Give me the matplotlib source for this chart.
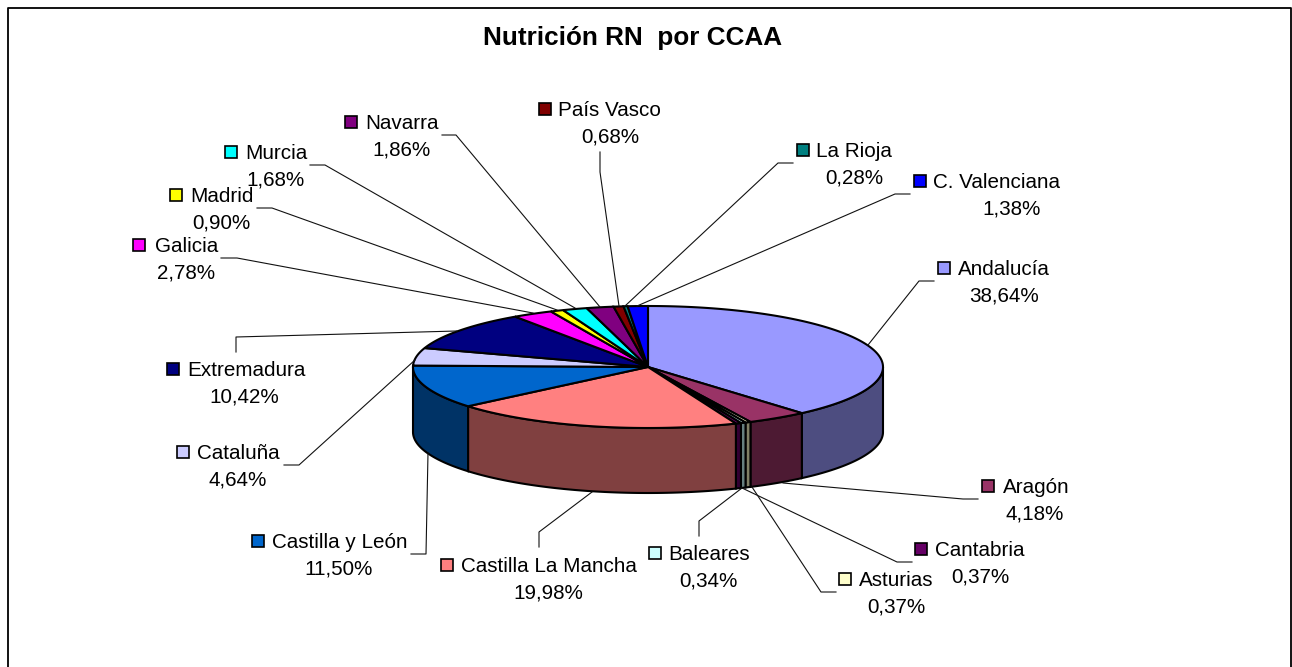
import matplotlib
matplotlib.use("Agg")
import matplotlib.pyplot as plt
import numpy as np
from matplotlib.colors import to_rgb
from matplotlib.patches import Polygon, Rectangle

plt.rcParams["font.family"] = ["Liberation Sans", "DejaVu Sans"]

names = ["Andalucía", "Aragón", "Asturias", "Baleares", "Cantabria",
         "Castilla La Mancha", "Castilla y León", "Cataluña", "Extremadura",
         "Galicia", "Madrid", "Murcia", "Navarra", "País Vasco", "La Rioja",
         "C. Valenciana"]
values = [38.64, 4.18, 0.37, 0.34, 0.37, 19.98, 11.50, 4.64, 10.42,
          2.78, 0.90, 1.68, 1.86, 0.68, 0.28, 1.38]
colors = ["#9999FF", "#993366", "#FFFFCC", "#CCFFFF", "#660066", "#FF8080",
          "#0066CC", "#CCCCFF", "#000080", "#FF00FF", "#FFFF00", "#00FFFF",
          "#800080", "#800000", "#008080", "#0000FF"]
title = "Nutrición RN  por CCAA"

# layout in pixels: key centre x, key centre y, name left x, percent centre x
label_pos = {
    "Andalucía": (944, 268, 958, 1004),
    "Aragón": (988, 486, 1003, 1035),
    "Asturias": (845, 579, 859, 896),
    "Baleares": (655, 553, 668, 708),
    "Cantabria": (921, 549, 935, 980),
    "Castilla La Mancha": (447, 565, 461, 548),
    "Castilla y León": (258, 541, 272, 339),
    "Cataluña": (183, 452, 197, 238),
    "Extremadura": (173, 369, 187, 244),
    "Galicia": (139, 245, 155, 186),
    "Madrid": (176, 195, 190, 221),
    "Murcia": (231, 152, 245, 275),
    "Navarra": (351, 122, 365, 401),
    "País Vasco": (545, 109, 558, 610),
    "La Rioja": (803, 150, 816, 854),
    "C. Valenciana": (920, 181, 933, 1012),
}
leaders = {
    "Andalucía": [(934, 281), (919, 281), (868, 345)],
    "Aragón": [(978, 499), (963, 499), (783, 483)],
    "Asturias": [(836, 592), (821, 592), (752, 487)],
    "Baleares": [(699, 536), (699, 521), (742, 488)],
    "Cantabria": [(912, 562), (897, 562), (742, 488)],
    "Castilla La Mancha": [(539, 547), (539, 532), (592, 492)],
    "Castilla y León": [(411, 554), (426, 554), (428, 453)],
    "Cataluña": [(284, 465), (299, 465), (415, 360)],
    "Extremadura": [(236, 352), (236, 337), (457, 331)],
    "Galicia": [(221, 258), (237, 258), (533, 313)],
    "Madrid": [(257, 208), (272, 208), (557, 310)],
    "Murcia": [(310, 165), (325, 165), (575, 308)],
    "Navarra": [(442, 135), (456, 135), (600, 307)],
    "País Vasco": [(600, 152), (600, 172), (619, 306)],
    "La Rioja": [(793, 163), (778, 163), (625, 306)],
    "C. Valenciana": [(910, 194), (895, 194), (637, 306)],
}

cx, cy, rx, ry, depth = 648, 367, 235, 61, 65


def arc(a0, a1, dy=0):
    t = np.radians(np.linspace(a0, a1, max(int(abs(a1 - a0) * 2), 2)))
    return np.column_stack([cx + rx * np.sin(t), cy + dy - ry * np.cos(t)])


fig = plt.figure(figsize=(12.92, 6.67), dpi=100)
ax = fig.add_axes([0, 0, 1, 1])
ax.set_xlim(0, 1292)
ax.set_ylim(667, 0)
ax.axis("off")

# chart frame, the bottom edge falls outside the picture
ax.plot([8, 8, 1291, 1291], [680, 8, 8, 680], color="black", lw=1.3, clip_on=False)

edges = np.cumsum([0] + values) * 3.6

# side wall, only the front half shows
for i in range(len(values)):
    a0, a1 = max(edges[i], 90), min(edges[i + 1], 270)
    if a1 <= a0:
        continue
    pts = np.vstack([arc(a0, a1), arc(a1, a0, depth)])
    dark = tuple(c * 0.5 for c in to_rgb(colors[i]))
    ax.add_patch(Polygon(pts, closed=True, facecolor=dark, edgecolor="black", lw=1.5, zorder=2))

# top face
for i in range(len(values)):
    pts = np.vstack([[cx, cy], arc(edges[i], edges[i + 1])])
    ax.add_patch(Polygon(pts, closed=True, facecolor=colors[i], edgecolor="black", lw=1.5, zorder=3))

for name, val, col in zip(names, values, colors):
    kx, ky, tx, px = label_pos[name]
    xs, ys = zip(*leaders[name])
    ax.plot(xs, ys, color="#111111", lw=0.8, zorder=4)
    ax.add_patch(Rectangle((kx - 6, ky - 6), 12, 12, facecolor=col, edgecolor="black", lw=1.2, zorder=5))
    ax.text(tx, ky + 7, name, fontsize=14.9, ha="left", va="baseline", color="black", zorder=5)
    ax.text(px, ky + 33.5, f"{val:.2f}%".replace(".", ","), fontsize=14.9,
            ha="center", va="baseline", color="black", zorder=5)

ax.text(632.5, 45, title, fontsize=18.8, fontweight="bold", ha="center", va="baseline", color="black")

fig.savefig("out.png", dpi=100)
